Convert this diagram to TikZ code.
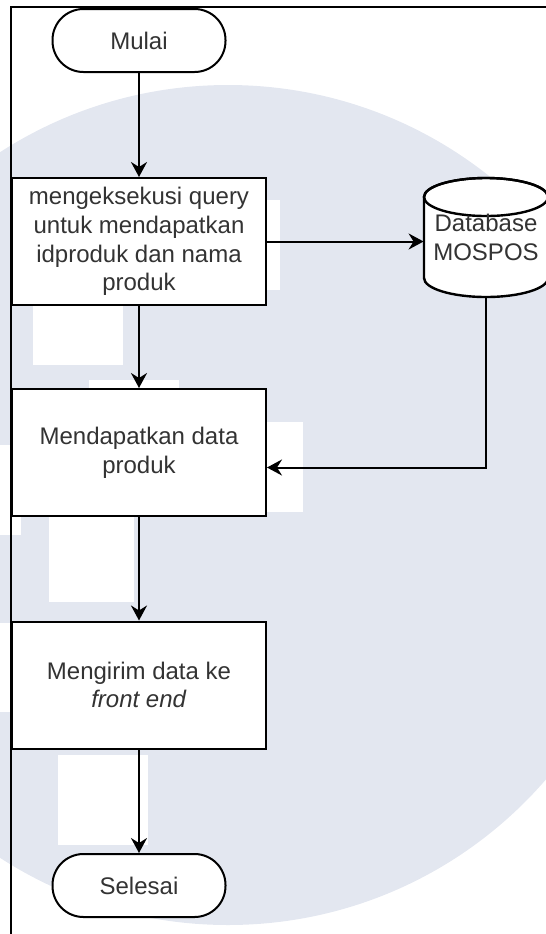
\documentclass[tikz,border=0pt]{standalone}
\usepackage{fontspec}
\setmainfont{Liberation Sans}
\usetikzlibrary{shapes}
\usetikzlibrary{arrows.meta}

\definecolor{watermark}{RGB}{227,231,240}
\definecolor{textgray}{RGB}{51,51,51}

\begin{document}
\begin{tikzpicture}[x=0.5pt,y=-0.5pt]
    \tikzstyle{terminal} = [draw,line width=1pt,rectangle,rounded corners=15.5pt,minimum width=86.5pt,minimum height=31.5pt,fill=white,text=textgray,inner sep=0pt,font=\fontsize{12pt}{14.4pt}\selectfont]
    \tikzstyle{process}  = [draw,line width=1pt,rectangle,minimum width=127pt,minimum height=63.5pt,fill=white,text=textgray,align=center,inner sep=0pt,font=\fontsize{12pt}{14.4pt}\selectfont]
    \tikzstyle{database} = [rectangle,minimum width=62pt,minimum height=59.5pt,text=textgray,align=center,inner sep=0pt,font=\fontsize{12pt}{14.4pt}\selectfont]
    \tikzstyle{cylinder edge} = [line width=1.2pt,black]
    \tikzstyle{flow}     = [-{Stealth[length=7.5pt,width=8pt,inset=2.5pt]},line width=1pt,black]

    \useasboundingbox (0,0) rectangle (546,934);

    % watermark behind the chart
    \fill[watermark] (228,505) circle (420);
    \fill[white] (188,200) rectangle (280,290);
    \fill[white] (33,295) rectangle (123,365);
    \fill[white] (89,380) rectangle (179,450);
    \fill[white] (210,422) rectangle (303,512);
    \fill[white] (0,445) rectangle (21,535);
    \fill[white] (49,517) rectangle (134,602);
    \fill[white] (0,623) rectangle (10,712);
    \fill[white] (58,755) rectangle (148,845);

    % frame
    \draw[line width=1pt] (10.5,934) -- (10.5,7) -- (546,7);

    % database drum
    \draw[cylinder edge,fill=white] (424,197) -- (424,278)
        arc[start angle=180,end angle=360,x radius=31pt,y radius=9.5pt] -- (548,197)
        arc[start angle=0,end angle=180,x radius=31pt,y radius=9.5pt] -- cycle;
    \draw[cylinder edge] (486,197) ellipse [x radius=31pt,y radius=9.5pt];

    \node[terminal] (mulai)   at (139,40.5)  {Mulai};
    \node[process]  (query)   at (139,241.5) {mengeksekusi query\\untuk mendapatkan\\idproduk dan nama\\produk};
    \node[database] (mospos)  at (486,237.5) {Database\\MOSPOS};
    \node[process]  (dapat)   at (139,452.5) {Mendapatkan data\\produk};
    \node[process]  (kirim)   at (139,685)   {Mengirim data ke\\\textit{front end}};
    \node[terminal] (selesai) at (139,885.5) {Selesai};

    \draw[flow] (mulai)  -- (query);
    \draw[flow] (query.east) -- (query.east -| mospos.west);
    \draw[flow] (query)  -- (dapat);
    \draw[flow] (mospos.south) |- ([yshift=-7.5pt]dapat.east);
    \draw[flow] (dapat)  -- (kirim);
    \draw[flow] (kirim)  -- (selesai);
\end{tikzpicture}
\end{document}
